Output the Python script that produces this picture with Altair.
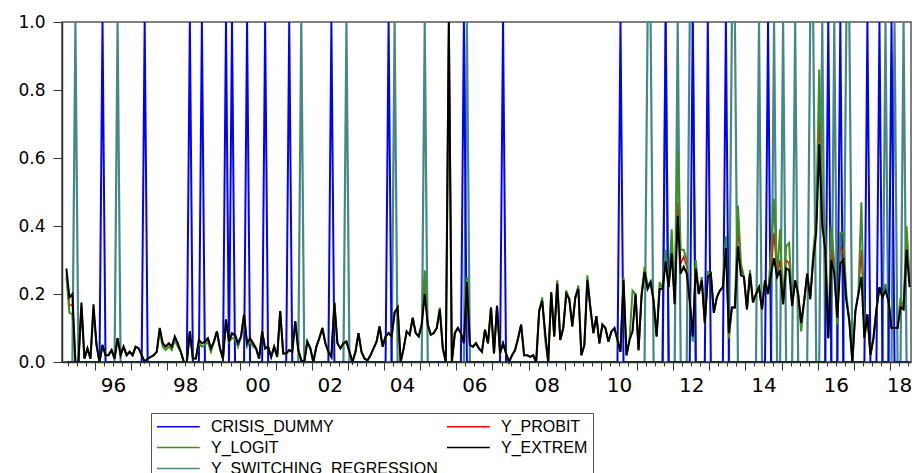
import altair as alt
import pandas as pd

# ---------------- data (monthly, first observation 1995-03) ----------------
START = "1995-03"

Y_EXTREM = [
    # 1995 (Mar-Dec)
    0.275, 0.19, 0.20, 0.0, 0.0, 0.175, 0.01, 0.04, 0.01, 0.17,
    # 1996
    0.05, 0.0, 0.05, 0.02, 0.02, 0.035, 0.01, 0.07, 0.02, 0.045, 0.02, 0.03,
    # 1997
    0.02, 0.045, 0.04, 0.02, 0.0, 0.01, 0.015, 0.02, 0.03, 0.10, 0.055, 0.045,
    # 1998
    0.055, 0.045, 0.075, 0.055, 0.03, 0.0, 0.0, 0.09, 0.01, 0.01, 0.065, 0.055,
    # 1999
    0.06, 0.07, 0.04, 0.06, 0.09, 0.04, 0.01, 0.125, 0.06, 0.085, 0.08, 0.055,
    # 2000
    0.075, 0.14, 0.055, 0.07, 0.055, 0.04, 0.01, 0.09, 0.04, 0.045, 0.015, 0.045,
    # 2001
    0.015, 0.15, 0.025, 0.025, 0.035, 0.03, 0.12, 0.035, 0.005, 0.0, 0.06, 0.04,
    # 2002
    0.0, 0.045, 0.07, 0.10, 0.055, 0.03, 0.015, 0.175, 0.055, 0.04, 0.055, 0.06,
    # 2003
    0.03, 0.0, 0.03, 0.085, 0.03, 0.01, 0.005, 0.02, 0.04, 0.06, 0.105, 0.045,
    # 2004
    0.075, 0.085, 0.075, 0.145, 0.16, 0.0, 0.04, 0.09, 0.08, 0.13, 0.085, 0.075,
    # 2005
    0.11, 0.20, 0.11, 0.08, 0.085, 0.10, 0.155, 0.04, 0.0, 1.0, 0.0, 0.085,
    # 2006
    0.10, 0.085, 0.055, 0.235, 0.05, 0.045, 0.055, 0.04, 0.03, 0.095, 0.055, 0.16,
    # 2007
    0.025, 0.165, 0.025, 0.055, 0.025, 0.0, 0.02, 0.035, 0.07, 0.11, 0.02, 0.02,
    # 2008
    0.015, 0.02, 0.0, 0.15, 0.18, 0.085, 0.0, 0.205, 0.075, 0.23, 0.065, 0.10,
    # 2009
    0.20, 0.185, 0.105, 0.19, 0.215, 0.02, 0.05, 0.24, 0.16, 0.085, 0.135, 0.055,
    # 2010
    0.11, 0.10, 0.06, 0.09, 0.10, 0.065, 0.03, 0.24, 0.02, 0.065, 0.09, 0.20,
    # 2011
    0.035, 0.195, 0.265, 0.215, 0.235, 0.18, 0.075, 0.215, 0.215, 0.295, 0.22, 0.32,
    # 2012
    0.17, 0.43, 0.26, 0.28, 0.26, 0.18, 0.075, 0.275, 0.20, 0.24, 0.115, 0.25,
    # 2013
    0.26, 0.145, 0.19, 0.21, 0.22, 0.335, 0.085, 0.16, 0.16, 0.34, 0.255, 0.25,
    # 2014
    0.155, 0.26, 0.175, 0.20, 0.22, 0.155, 0.24, 0.20, 0.26, 0.305, 0.25, 0.27,
    # 2015
    0.17, 0.275, 0.27, 0.165, 0.24, 0.20, 0.115, 0.18, 0.26, 0.185, 0.30, 0.38,
    # 2016
    0.64, 0.40, 0.33, 0.07, 0.30, 0.26, 0.13, 0.29, 0.30, 0.18, 0.12, 0.0,
    # 2017
    0.15, 0.20, 0.25, 0.07, 0.14, 0.02, 0.07, 0.155, 0.22, 0.19, 0.21, 0.18,
    # 2018 (Jan-Jul)
    0.10, 0.10, 0.10, 0.16, 0.155, 0.33, 0.22,
]

# Y_PROBIT / Y_LOGIT readings where they separate visibly from Y_EXTREM
# (month index from 1995-03); elsewhere the three fitted lines overlap.
PROBIT_READINGS = {
    0: 0.26, 1: 0.165, 2: 0.17, 5: 0.165, 9: 0.16, 31: 0.095, 36: 0.07,
    53: 0.12, 55: 0.08, 59: 0.135, 89: 0.17, 119: 0.22, 124: 0.155,
    133: 0.245, 159: 0.08, 163: 0.235, 173: 0.245, 185: 0.245, 192: 0.27,
    199: 0.31, 201: 0.35, 203: 0.47, 204: 0.29, 205: 0.31, 206: 0.28,
    209: 0.285, 219: 0.35, 223: 0.40, 224: 0.27, 227: 0.265, 234: 0.28,
    235: 0.38, 237: 0.30, 239: 0.30, 240: 0.29, 248: 0.31, 249: 0.40,
    250: 0.73, 251: 0.44, 252: 0.36, 254: 0.33, 255: 0.27, 257: 0.34,
    258: 0.32, 259: 0.19, 264: 0.33, 272: 0.215, 277: 0.17, 279: 0.36,
    280: 0.23,
}
LOGIT_READINGS = {
    0: 0.25, 1: 0.145, 2: 0.14, 5: 0.155, 9: 0.15, 31: 0.09, 32: 0.045,
    33: 0.035, 34: 0.045, 35: 0.035, 36: 0.065, 37: 0.045, 44: 0.055,
    45: 0.045, 46: 0.05, 47: 0.06, 48: 0.03, 55: 0.07, 56: 0.07, 57: 0.045,
    60: 0.045, 61: 0.06, 62: 0.045, 119: 0.27, 124: 0.16, 133: 0.25,
    158: 0.19, 159: 0.065, 163: 0.24, 166: 0.21, 170: 0.225, 173: 0.255,
    185: 0.25, 188: 0.21, 191: 0.20, 192: 0.28, 193: 0.225, 197: 0.235,
    199: 0.33, 201: 0.39, 203: 0.62, 204: 0.33, 205: 0.33, 206: 0.30,
    208: 0.06, 209: 0.30, 211: 0.25, 213: 0.265, 219: 0.37, 220: 0.07,
    223: 0.46, 224: 0.29, 227: 0.27, 234: 0.32, 235: 0.48, 237: 0.39,
    239: 0.34, 240: 0.35, 244: 0.09, 248: 0.32, 249: 0.42, 250: 0.86,
    251: 0.48, 252: 0.38, 254: 0.40, 255: 0.29, 256: 0.11, 257: 0.38,
    258: 0.38, 259: 0.20, 264: 0.47, 272: 0.23, 277: 0.19, 279: 0.40,
    280: 0.24,
}

# months where the 0/1 series equal 1
CRISIS_MONTHS = [
    "1996-03", "1997-05", "1998-08", "1998-12", "1999-08", "1999-10",
    "2000-03", "2000-09", "2001-05", "2002-07", "2004-02", "2006-03",
    "2007-04", "2010-07", "2011-10", "2012-07", "2012-12", "2013-06",
    "2014-08", "2016-04", "2016-08", "2017-05", "2017-09", "2018-01",
]
SWITCH_MONTHS = [
    "1995-06", "1996-08", "2001-09", "2002-12", "2004-04", "2005-02",
    "2006-04", "2011-04", "2011-05", "2011-10", "2012-02", "2012-06",
    "2012-07", "2013-08", "2013-09", "2014-05", "2014-10", "2015-01",
    "2015-05", "2015-10", "2015-11", "2016-02", "2016-06", "2016-10",
    "2016-11", "2017-11", "2018-02", "2018-05",
]

SERIES = ["CRISIS_DUMMY", "Y_PROBIT", "Y_LOGIT", "Y_EXTREM", "Y_SWITCHING_REGRESSION"]
COLORS = ["#0000FF", "#FF0000", "#3E8E20", "#000000", "#468787"]
X_TICK_YEARS = list(range(1996, 2019))
Y_TICKS = [0, 0.2, 0.4, 0.6, 0.8, 1.0]

# ---------------- table ----------------
months = pd.period_range(START, periods=len(Y_EXTREM), freq="M")
mlabels = [str(p) for p in months]
tpos = [p.year + (p.month - 0.5) / 12 for p in months]
values = {
    "CRISIS_DUMMY": [1.0 if m in CRISIS_MONTHS else 0.0 for m in mlabels],
    "Y_PROBIT": [PROBIT_READINGS.get(k, v) for k, v in enumerate(Y_EXTREM)],
    "Y_LOGIT": [LOGIT_READINGS.get(k, v) for k, v in enumerate(Y_EXTREM)],
    "Y_EXTREM": list(Y_EXTREM),
    "Y_SWITCHING_REGRESSION": [1.0 if m in SWITCH_MONTHS else 0.0 for m in mlabels],
}
rows = []
for s in SERIES:
    for t, v in zip(tpos, values[s]):
        rows.append({"t": t, "v": v, "series": s})
df = pd.DataFrame(rows)

# ---------------- chart ----------------
xscale = alt.Scale(domain=[1995.087, 2018.581], nice=False, zero=False)
yscale = alt.Scale(domain=[0, 1], nice=False)
cscale = alt.Scale(domain=SERIES, range=COLORS)

legend = alt.Legend(
    title=None, orient="none", legendX=89, legendY=391, columns=2,
    direction="horizontal", symbolType="M-1,0H4.7", symbolSize=225,
    symbolStrokeWidth=1.5, labelFont="Liberation Sans", labelFontSize=16,
    labelColor="#000", labelLimit=400, labelOffset=38, padding=5,
    rowPadding=4, columnPadding=6, strokeColor="#555", fillColor="#fff",
)

axis_minor = alt.Axis(
    orient="bottom", values=[1995 + q / 4 for q in range(1, 95)], labels=False,
    tickSize=4, tickColor="#333", tickWidth=1, domain=True, domainColor="#333",
    domainWidth=1.5, grid=False, title=None, zindex=1,
)
axis_major = alt.Axis(
    orient="bottom", values=X_TICK_YEARS, tickSize=8, tickColor="#333",
    tickWidth=1, domain=False, grid=False, title=None, zindex=1,
    labelExpr="datum.value % 2 == 0 ? slice(toString(datum.value), 2) : ''",
    labelOffset={"condition": {"test": "datum.value == 2018", "value": 9}, "value": 18},
    labelPadding=5, labelFont="DejaVu Sans", labelFontSize=20,
    labelColor="#000", labelFlush=False, labelOverlap=False,
)
axis_y = alt.Axis(
    orient="left", values=Y_TICKS, format=".1f",
    tickSize=9, tickColor="#333", domain=True, domainColor="#333",
    domainWidth=1.5, grid=False, title=None, labelPadding=8,
    labelFont="DejaVu Sans", labelFontSize=17, labelColor="#000", zindex=1,
)


def layer(name, width, xaxis, yaxis):
    return (
        alt.Chart()
        .transform_filter(alt.datum.series == name)
        .mark_line(strokeWidth=width)
        .encode(
            x=alt.X("t:Q", scale=xscale, axis=xaxis),
            y=alt.Y("v:Q", scale=yscale, axis=yaxis),
            color=alt.Color("series:N", scale=cscale, legend=legend),
        )
    )


chart = (
    alt.layer(
        layer("Y_SWITCHING_REGRESSION", 2.2, axis_minor, axis_y),
        layer("CRISIS_DUMMY", 2.0, axis_major, None),
        layer("Y_PROBIT", 1.5, None, None),
        layer("Y_LOGIT", 2.0, None, None),
        layer("Y_EXTREM", 2.0, None, None),
        data=df,
    )
    .resolve_axis(x="independent", y="independent")
    .resolve_scale(x="shared", y="shared", color="shared")
    .properties(
        width=849, height=340,
        padding={"left": 54, "top": 14, "right": 1, "bottom": 111},
        autosize=alt.AutoSizeParams(type="none"),
        background="white",
    )
    .configure_view(stroke="#555", strokeWidth=1.5)
)

chart.save("out.html", embed_options={"renderer": "svg", "actions": False})
